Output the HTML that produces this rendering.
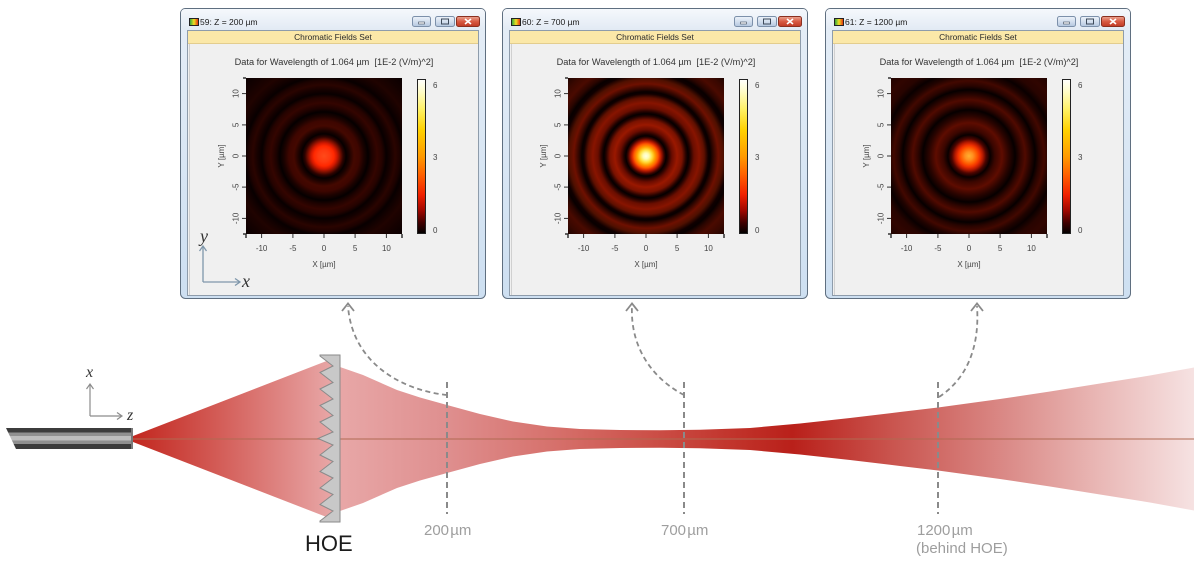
<!DOCTYPE html>
<html>
<head>
<meta charset="utf-8">
<style>
  html,body{margin:0;padding:0;background:#ffffff;}
  svg{display:block;}
  text{font-family:"Liberation Sans",sans-serif;}
  .serif{font-family:"Liberation Serif",serif;font-style:italic;}
</style>
</head>
<body>
<svg width="1197" height="564" viewBox="0 0 1197 564" xmlns="http://www.w3.org/2000/svg">
<defs>
  <radialGradient id="hm1" cx="0.5" cy="0.5" r="0.707">
    <stop offset="0%" stop-color="#ff4a1a"/>
    <stop offset="5.5%" stop-color="#ff3a10"/>
    <stop offset="9.1%" stop-color="#ff2800"/>
    <stop offset="11.8%" stop-color="#d01800"/>
    <stop offset="14.5%" stop-color="#801000"/>
    <stop offset="17.3%" stop-color="#300300"/>
    <stop offset="20%" stop-color="#060000"/>
    <stop offset="22.7%" stop-color="#1a0200"/>
    <stop offset="27.3%" stop-color="#440800"/>
    <stop offset="31.8%" stop-color="#3e0600"/>
    <stop offset="36.4%" stop-color="#1a0200"/>
    <stop offset="40%" stop-color="#050000"/>
    <stop offset="43.6%" stop-color="#1e0200"/>
    <stop offset="48.2%" stop-color="#340500"/>
    <stop offset="52.7%" stop-color="#250300"/>
    <stop offset="56.4%" stop-color="#080000"/>
    <stop offset="60%" stop-color="#150100"/>
    <stop offset="64.5%" stop-color="#2a0400"/>
    <stop offset="68.2%" stop-color="#1e0200"/>
    <stop offset="71.8%" stop-color="#080000"/>
    <stop offset="76.4%" stop-color="#140100"/>
    <stop offset="81.8%" stop-color="#200300"/>
    <stop offset="90.9%" stop-color="#140100"/>
    <stop offset="100%" stop-color="#0a0000"/>
  </radialGradient>
  <radialGradient id="hm2" cx="0.5" cy="0.5" r="0.707">
    <stop offset="0%" stop-color="#ffffe6"/>
    <stop offset="2.7%" stop-color="#fffbb0"/>
    <stop offset="5.5%" stop-color="#ffe040"/>
    <stop offset="8.2%" stop-color="#ffa000"/>
    <stop offset="10.9%" stop-color="#ff5a00"/>
    <stop offset="12.7%" stop-color="#d82800"/>
    <stop offset="14.5%" stop-color="#901000"/>
    <stop offset="16.4%" stop-color="#3a0400"/>
    <stop offset="18.2%" stop-color="#050000"/>
    <stop offset="20%" stop-color="#200200"/>
    <stop offset="23.6%" stop-color="#6a0c00"/>
    <stop offset="28.2%" stop-color="#9a1800"/>
    <stop offset="32.7%" stop-color="#7a1200"/>
    <stop offset="36.4%" stop-color="#200200"/>
    <stop offset="38.2%" stop-color="#050000"/>
    <stop offset="40%" stop-color="#200200"/>
    <stop offset="43.6%" stop-color="#6a0e00"/>
    <stop offset="48.2%" stop-color="#881400"/>
    <stop offset="52.7%" stop-color="#601000"/>
    <stop offset="56.4%" stop-color="#100000"/>
    <stop offset="58.2%" stop-color="#080000"/>
    <stop offset="60.9%" stop-color="#300600"/>
    <stop offset="65.5%" stop-color="#6e1000"/>
    <stop offset="70%" stop-color="#501000"/>
    <stop offset="74.5%" stop-color="#100000"/>
    <stop offset="77.3%" stop-color="#080000"/>
    <stop offset="80.9%" stop-color="#2a0500"/>
    <stop offset="86.4%" stop-color="#4a0a00"/>
    <stop offset="92.7%" stop-color="#3a0800"/>
    <stop offset="100%" stop-color="#200400"/>
  </radialGradient>
  <radialGradient id="hm3" cx="0.5" cy="0.5" r="0.707">
    <stop offset="0%" stop-color="#ffb030"/>
    <stop offset="3.6%" stop-color="#ff9020"/>
    <stop offset="7.3%" stop-color="#ff5a00"/>
    <stop offset="10%" stop-color="#f03000"/>
    <stop offset="12.7%" stop-color="#b01800"/>
    <stop offset="15.5%" stop-color="#500500"/>
    <stop offset="19.1%" stop-color="#080000"/>
    <stop offset="23.6%" stop-color="#3a0600"/>
    <stop offset="30%" stop-color="#5e0c00"/>
    <stop offset="36.4%" stop-color="#2a0400"/>
    <stop offset="41.8%" stop-color="#060000"/>
    <stop offset="46.4%" stop-color="#300500"/>
    <stop offset="50.9%" stop-color="#500a00"/>
    <stop offset="55.5%" stop-color="#2a0400"/>
    <stop offset="60%" stop-color="#060000"/>
    <stop offset="63.6%" stop-color="#280400"/>
    <stop offset="68.2%" stop-color="#420800"/>
    <stop offset="72.7%" stop-color="#200300"/>
    <stop offset="77.3%" stop-color="#0a0000"/>
    <stop offset="83.6%" stop-color="#280400"/>
    <stop offset="90.9%" stop-color="#300500"/>
    <stop offset="100%" stop-color="#200300"/>
  </radialGradient>
  <linearGradient id="cb" x1="0" y1="0" x2="0" y2="1">
    <stop offset="0%" stop-color="#ffffff"/>
    <stop offset="8%" stop-color="#fffcc8"/>
    <stop offset="20%" stop-color="#fff060"/>
    <stop offset="33%" stop-color="#ffd000"/>
    <stop offset="50%" stop-color="#ff9a00"/>
    <stop offset="62%" stop-color="#ff6000"/>
    <stop offset="75%" stop-color="#f02000"/>
    <stop offset="85%" stop-color="#a00800"/>
    <stop offset="93%" stop-color="#400000"/>
    <stop offset="100%" stop-color="#000000"/>
  </linearGradient>
  <linearGradient id="titleg" x1="0" y1="0" x2="0" y2="1">
    <stop offset="0%" stop-color="#f5f8fc"/>
    <stop offset="100%" stop-color="#e2eaf4"/>
  </linearGradient>
  <linearGradient id="frameg" x1="0" y1="0" x2="0" y2="1">
    <stop offset="0%" stop-color="#e6eef7"/>
    <stop offset="100%" stop-color="#cddff1"/>
  </linearGradient>
  <linearGradient id="btng" x1="0" y1="0" x2="0" y2="1">
    <stop offset="0%" stop-color="#eef3fa"/>
    <stop offset="50%" stop-color="#d3dfee"/>
    <stop offset="100%" stop-color="#b4c7df"/>
  </linearGradient>
  <linearGradient id="closeg" x1="0" y1="0" x2="0" y2="1">
    <stop offset="0%" stop-color="#eba694"/>
    <stop offset="50%" stop-color="#d85a42"/>
    <stop offset="100%" stop-color="#c03a24"/>
  </linearGradient>
  <linearGradient id="icong" x1="0" y1="0" x2="1" y2="0">
    <stop offset="0%" stop-color="#20a040"/>
    <stop offset="50%" stop-color="#f0e020"/>
    <stop offset="100%" stop-color="#e02010"/>
  </linearGradient>
  <linearGradient id="coneg" gradientUnits="userSpaceOnUse" x1="133" y1="0" x2="333" y2="0">
    <stop offset="0%" stop-color="#c2271f"/>
    <stop offset="45%" stop-color="#d45f5a"/>
    <stop offset="100%" stop-color="#e8a7a7"/>
  </linearGradient>
  <linearGradient id="beamg" gradientUnits="userSpaceOnUse" x1="340" y1="0" x2="1194" y2="0">
    <stop offset="0%" stop-color="#e8a7a7"/>
    <stop offset="12%" stop-color="#df9090"/>
    <stop offset="25%" stop-color="#d6716c"/>
    <stop offset="38%" stop-color="#ca4b43"/>
    <stop offset="48%" stop-color="#bf2e26"/>
    <stop offset="53%" stop-color="#b9201a"/>
    <stop offset="65%" stop-color="#ca5650"/>
    <stop offset="77%" stop-color="#d98683"/>
    <stop offset="88%" stop-color="#e8b4b2"/>
    <stop offset="100%" stop-color="#f6e2e2"/>
  </linearGradient>
  <clipPath id="fiberclip">
    <polygon points="6,428 133,428 133,449 16,449"/>
  </clipPath>

  <g id="winbase">
    <rect x="0.5" y="8.5" width="305" height="290" rx="5" ry="5" fill="url(#frameg)" stroke="#5f6f80" stroke-width="1"/>
    <rect x="1" y="9" width="304" height="21" rx="4" fill="url(#titleg)"/>
    <rect x="7.5" y="30.5" width="291" height="265" fill="#f0f0f0" stroke="#8e9cab" stroke-width="1"/>
    <rect x="8" y="31" width="290" height="12" fill="#fbe8a8"/>
    <line x1="8" y1="43.5" x2="298" y2="43.5" stroke="#e3cd8e" stroke-width="1"/>
    <line x1="9.5" y1="44" x2="9.5" y2="295" stroke="#d0d0d0" stroke-width="1"/>
    <text x="153" y="40" font-size="8.4" text-anchor="middle" fill="#2a2a2a">Chromatic Fields Set</text>
    <rect x="9.5" y="18.5" width="9" height="7" fill="url(#icong)" stroke="#222" stroke-width="1"/>
    <rect x="232.5" y="16.5" width="18" height="10" rx="2" fill="url(#btng)" stroke="#7c90aa" stroke-width="1"/>
    <rect x="238.5" y="22" width="6" height="2" fill="#ffffff" stroke="#3d4a5a" stroke-width="0.6"/>
    <rect x="255.5" y="16.5" width="19" height="10" rx="2" fill="url(#btng)" stroke="#7c90aa" stroke-width="1"/>
    <rect x="261.5" y="19" width="7" height="5" fill="none" stroke="#3d4a5a" stroke-width="1"/>
    <rect x="276.5" y="16.5" width="23" height="10" rx="2" fill="url(#closeg)" stroke="#8a3020" stroke-width="1"/>
    <path d="M285,19 L291,24 M291,19 L285,24" stroke="#ffffff" stroke-width="1.6"/>
    <text x="154" y="65" font-size="9.2" text-anchor="middle" fill="#333">Data for Wavelength of 1.064 µm&#160; [1E-2 (V/m)^2]</text>
    <g stroke="#333" stroke-width="1">
      <line x1="62" y1="93.6" x2="66" y2="93.6"/>
      <line x1="62" y1="124.9" x2="66" y2="124.9"/>
      <line x1="62" y1="156" x2="66" y2="156"/>
      <line x1="62" y1="187.1" x2="66" y2="187.1"/>
      <line x1="62" y1="218.4" x2="66" y2="218.4"/>
      <line x1="81.6" y1="234" x2="81.6" y2="238"/>
      <line x1="112.9" y1="234" x2="112.9" y2="238"/>
      <line x1="144" y1="234" x2="144" y2="238"/>
      <line x1="175.1" y1="234" x2="175.1" y2="238"/>
      <line x1="206.4" y1="234" x2="206.4" y2="238"/>
      <line x1="63" y1="78" x2="66" y2="78" stroke-width="1.5"/>
      <line x1="63" y1="234" x2="66" y2="234" stroke-width="1.5"/>
      <line x1="66" y1="234" x2="66" y2="238" stroke-width="1.5"/>
      <line x1="222" y1="234" x2="222" y2="238" stroke-width="1.5"/>
    </g>
    <g font-size="8" fill="#444" text-anchor="middle">
      <text transform="translate(58.5,93.6) rotate(-90)">10</text>
      <text transform="translate(58.5,124.9) rotate(-90)">5</text>
      <text transform="translate(58.5,156) rotate(-90)">0</text>
      <text transform="translate(58.5,187.1) rotate(-90)">-5</text>
      <text transform="translate(58.5,218.4) rotate(-90)">-10</text>
      <text transform="translate(44,156) rotate(-90)">Y [µm]</text>
      <text x="81.6" y="251">-10</text>
      <text x="112.9" y="251">-5</text>
      <text x="144" y="251">0</text>
      <text x="175.1" y="251">5</text>
      <text x="206.4" y="251">10</text>
      <text x="144" y="267">X [µm]</text>
    </g>
    <rect x="237.5" y="79.5" width="8" height="154" fill="url(#cb)" stroke="#222" stroke-width="1"/>
    <g font-size="8" fill="#444">
      <text x="253" y="88">6</text>
      <text x="253" y="160">3</text>
      <text x="253" y="233">0</text>
    </g>
  </g>
</defs>

<rect x="0" y="0" width="1197" height="564" fill="#ffffff"/>

<g transform="translate(180,0)">
  <use href="#winbase"/>
  <rect x="66" y="78" width="156" height="156" fill="url(#hm1)"/>
  <text x="20" y="25" font-size="8.5" fill="#1a1a1a">59: Z = 200 µm</text>
  <g stroke="#7f97ab" stroke-width="1.3" fill="none">
    <line x1="23" y1="282" x2="23" y2="247"/>
    <polyline points="19.5,251 23,246 26.5,251"/>
    <line x1="23" y1="282" x2="59" y2="282"/>
    <polyline points="55,278.5 60,282 55,285.5"/>
  </g>
  <text class="serif" x="20" y="242" font-size="18" fill="#333">y</text>
  <text class="serif" x="62" y="287" font-size="18" fill="#333">x</text>
</g>

<g transform="translate(502,0)">
  <use href="#winbase"/>
  <rect x="66" y="78" width="156" height="156" fill="url(#hm2)"/>
  <text x="20" y="25" font-size="8.5" fill="#1a1a1a">60: Z = 700 µm</text>
</g>

<g transform="translate(825,0)">
  <use href="#winbase"/>
  <rect x="66" y="78" width="156" height="156" fill="url(#hm3)"/>
  <text x="20" y="25" font-size="8.5" fill="#1a1a1a">61: Z = 1200 µm</text>
</g>

<g clip-path="url(#fiberclip)">
  <rect x="0" y="428" width="140" height="4.5" fill="#3c3c3c"/>
  <rect x="0" y="432.5" width="140" height="3.5" fill="#909090"/>
  <rect x="0" y="436" width="140" height="4.5" fill="#bdbdbd"/>
  <rect x="0" y="440.5" width="140" height="3.5" fill="#909090"/>
  <rect x="0" y="444" width="140" height="5" fill="#3c3c3c"/>
  <rect x="131" y="428" width="2" height="21" fill="#7a7a7a"/>
</g>

<g stroke="#8c8c8c" stroke-width="1.2" fill="none">
  <line x1="90" y1="416" x2="90" y2="385"/>
  <polyline points="86.5,389 90,384 93.5,389"/>
  <line x1="90" y1="416" x2="121" y2="416"/>
  <polyline points="117,412.5 122,416 117,419.5"/>
</g>
<text class="serif" x="86" y="377" font-size="16" fill="#333">x</text>
<text class="serif" x="127" y="420" font-size="16" fill="#333">z</text>

<polygon points="133,436 333,358.5 333,519.5 133,442" fill="url(#coneg)"/>

<path d="M340,367 L363,375 L380,382.5 L397,390 L420,397.5 L447,405 L480,414 L513,421.5 L547,426.5 L580,429 L620,430 L660,430.2 L700,429.8 L750,428 L800,423.5 L850,418 L900,412 L938,407.5 L1000,399 L1050,391.5 L1100,383.5 L1150,375.5 L1194,367.5 L1194,510.5 L1150,502.5 L1100,494.5 L1050,486.5 L1000,479 L938,470.5 L900,466 L850,460 L800,454.5 L750,450 L700,448.2 L660,447.8 L620,448 L580,449 L547,451.5 L513,456.5 L480,464 L447,473 L420,480.5 L397,488 L380,495.5 L363,503 L340,511 Z" fill="url(#beamg)"/>

<line x1="133" y1="439" x2="1194" y2="439" stroke="#b06a52" stroke-width="1.3" stroke-opacity="0.8"/>

<polygon points="340,355 340,522 320,522 320,521 333,511 320,504.5 333,494.5 320,488 333,478 320,471.5 333,461.5 320,455 333,445 318,438.5 333,432 320,422 333,415.5 320,405.5 333,399 320,389 333,382.5 320,372.5 333,366 320,356 320,355" fill="#c8c8c8" stroke="#8a8a8a" stroke-width="1" stroke-linejoin="miter"/>
<text x="305" y="551" font-size="22" fill="#1c1c1c">HOE</text>

<g stroke="#8a8a8a" stroke-width="2" stroke-dasharray="6 4" fill="none">
  <line x1="447" y1="382" x2="447" y2="514"/>
  <line x1="684" y1="382" x2="684" y2="514"/>
  <line x1="938" y1="382" x2="938" y2="514"/>
</g>

<g stroke="#8a8a8a" stroke-width="1.8" stroke-dasharray="5 3.5" fill="none">
  <path d="M447,395 C400,390 352,362 348,306"/>
  <path d="M684,395 C655,380 630,350 632,306"/>
  <path d="M939,397 C965,380 980,350 977,306"/>
</g>
<g stroke="#8a8a8a" stroke-width="1.8" fill="none">
  <polyline points="342,311 348,303.5 354,311"/>
  <polyline points="626,311 632,303.5 638,311"/>
  <polyline points="971,311 977,303.5 983,311"/>
</g>

<g font-size="15" fill="#9e9e9e">
  <text x="424" y="535">200&#8202;µm</text>
  <text x="661" y="535">700&#8202;µm</text>
  <text x="917" y="535">1200&#8202;µm</text>
  <text x="916" y="553">(behind HOE)</text>
</g>
</svg>
</body>
</html>
